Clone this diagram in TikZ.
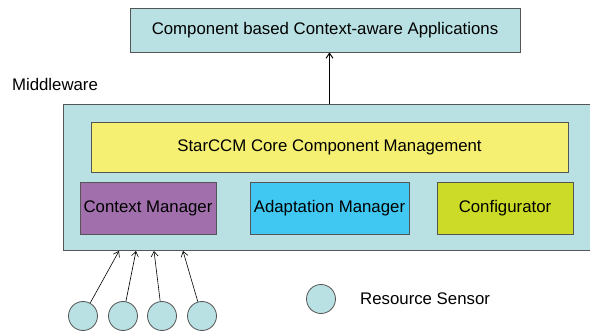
\documentclass[tikz,border=0pt]{standalone}
\usepackage{fontspec}
\setmainfont{Liberation Sans}
\usetikzlibrary{positioning,arrows.meta}
\definecolor{sensorcyan}{HTML}{B9E0E2}
\definecolor{coreyellow}{HTML}{F5EF72}
\definecolor{ctxpurple}{HTML}{A170AC}
\definecolor{adpblue}{HTML}{40C8F2}
\definecolor{cfglime}{HTML}{CCDA28}
\definecolor{edgegrey}{HTML}{555555}
\tikzset{
  box/.style={draw=edgegrey,line width=0.8pt,inner sep=0pt,font=\fontsize{16.8}{20}\selectfont},
  sensor/.style={circle,draw=edgegrey,line width=0.8pt,fill=sensorcyan,minimum size=29pt,inner sep=0pt},
  feed/.style={-{Straight Barb[length=5pt,width=7pt]}},
}
\begin{document}
\begin{tikzpicture}[x=1pt,y=-1pt]
\useasboundingbox (0,0) rectangle (590,334);
\node[box,fill=sensorcyan,minimum width=390pt,minimum height=44pt] (app) at (325,30) {Component based Context-aware Applications};
\node[font=\fontsize{16.8}{20}\selectfont] (mwlabel) at (55,84) {Middleware};
\node[box,fill=sensorcyan,minimum width=529pt,minimum height=146pt] (mw) at (327.5,177) {};
\node[box,fill=coreyellow,minimum width=477pt,minimum height=50pt] (core) at (329.5,147) {StarCCM Core Component Management};
\node[box,fill=ctxpurple,minimum width=136pt,minimum height=52pt] (ctx) at (148,208) {Context Manager};
\node[box,fill=adpblue,minimum width=159pt,minimum height=52pt] (adp) at (329.5,208) {Adaptation Manager};
\node[box,fill=cfglime,minimum width=136pt,minimum height=52pt] (cfg) at (505,208) {Configurator};
% sensors
\node[sensor] (s1) at (83,316) {};
\node[sensor] (s2) at (123,316) {};
\node[sensor] (s3) at (162,316) {};
\node[sensor] (s4) at (202,316) {};
\coordinate (in1) at (119,251);
\coordinate (in2) at (136,251);
\coordinate (in3) at (154,251);
\coordinate (in4) at (183,251);
\draw[feed,line width=0.6pt] (s1) -- (in1);
\draw[feed,line width=0.6pt] (s2) -- (in2);
\draw[feed,line width=0.6pt] (s3) -- (in3);
\draw[feed,line width=0.6pt] (s4) -- (in4);
\draw[feed,line width=1pt] (core.north |- mw.north) -- (core.north |- app.south);
% legend
\node[sensor] (legend) at (321,299) {};
\node[font=\fontsize{16.8}{20}\selectfont,anchor=west,inner sep=0pt] (legendtext) at (360,299) {Resource Sensor};
\end{tikzpicture}
\end{document}
